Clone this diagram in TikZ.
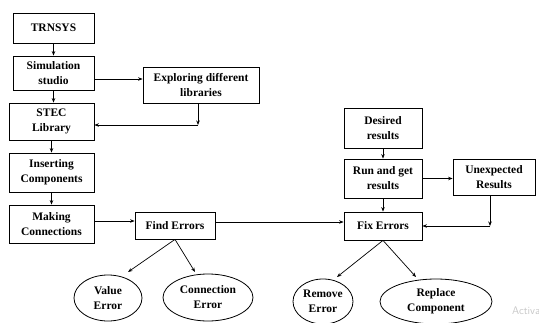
\documentclass[tikz,border=0pt]{standalone}
\usepackage{fontspec}
\setmainfont{Liberation Serif}
\usetikzlibrary{arrows.meta,shapes.geometric}
\begin{document}
\begin{tikzpicture}[x=1pt,y=-1pt,
  box/.style={draw, line width=0.8pt, rectangle, inner sep=0pt, align=center,
    font=\bfseries\fontsize{11.5}{15}\selectfont},
  oval/.style={draw, line width=0.8pt, ellipse, inner sep=0pt, align=center,
    font=\bfseries\fontsize{11.5}{15}\selectfont},
  arr/.style={line width=0.7pt, -{Stealth[length=4.5pt,width=3.5pt]}}]
\useasboundingbox (0,0) rectangle (539,322);
\clip (0,0) rectangle (539,322);

% left column
\node[box, minimum width=81pt, minimum height=30pt] (trn) at (53.5,28) {TRNSYS};
\node[box, minimum width=81pt, minimum height=34pt] (sim) at (53.5,73) {Simulation\\studio};
\node[box, minimum width=116pt, minimum height=36pt] (exp) at (201,85) {Exploring different\\libraries};
\node[box, minimum width=85pt, minimum height=37pt] (stec) at (51.5,121.5) {STEC\\Library};
\node[box, minimum width=85pt, minimum height=39pt] (ins) at (51.5,172.5) {Inserting\\Components};
\node[box, minimum width=85pt, minimum height=38pt] (mak) at (51.5,224) {Making\\Connections};
\node[box, minimum width=80pt, minimum height=27pt] (find) at (175,225.5) {Find Errors};
\node[oval, minimum width=68pt, minimum height=46pt] (val) at (108,298) {Value\\Error};
\node[oval, minimum width=90pt, minimum height=47pt] (con) at (208,297.5) {Connection\\Error};

% right column
\node[box, minimum width=78pt, minimum height=40pt] (des) at (383,128) {Desired\\results};
\node[box, minimum width=78pt, minimum height=39pt] (run) at (383,178.5) {Run and get\\results};
\node[box, minimum width=82pt, minimum height=36pt] (une) at (494,177) {Unexpected\\Results};
\node[box, minimum width=78pt, minimum height=28pt] (fix) at (383,226) {Fix Errors};
\node[oval, minimum width=60pt, minimum height=45pt] (rem) at (323,301.5) {Remove\\Error};
\node[oval, minimum width=112pt, minimum height=45pt] (rep) at (436,301.5) {Replace\\Component};

% corner points of the elbow connectors
\coordinate (c1) at (198,125);
\coordinate (c2) at (490,226);

% connectors
\draw[arr] (trn.south) -- (sim.north);
\draw[arr] ([yshift=-6pt]sim.east) coordinate (a1) -- (a1 -| exp.west);
\draw[arr] (sim.south) -- (stec.north -| sim.south);
\draw[arr] (exp.south -| c1) -- (c1);
\draw[arr] (c1) -- (c1 -| stec.east);
\draw[arr] (stec.south) -- (ins.north);
\draw[arr] (ins.south) -- (mak.north);
\draw[arr] ([yshift=3pt]mak.east) coordinate (a2) -- (a2 -| find.west);
\draw[arr] (find.east |- 0,222) coordinate (a3) -- (a3 -| fix.west);
\draw[arr] (find.south) -- ([shift={(20pt,26pt)}]val.center);
\draw[arr] (find.south) -- ([shift={(-13pt,25.5pt)}]con.center);

\draw[arr] (des.south) -- (run.north);
\draw[arr] (run.south) -- (fix.north);
\draw[arr] (run.east) -- (run.east -| une.west);
\draw[arr] (une.south -| c2) -- (c2);
\draw[arr] (c2) -- (c2 -| fix.east);
\draw[arr] (fix.south) -- ([shift={(14pt,24.5pt)}]rem.center);
\draw[arr] (fix.south) -- ([shift={(-20pt,24.5pt)}]rep.center);

% faint overlay text at the lower right
\node[anchor=west, inner sep=0pt, text=black!22, font=\sffamily\fontsize{11}{13}\selectfont] (wm) at (512,311) {Activate};
\end{tikzpicture}
\end{document}
